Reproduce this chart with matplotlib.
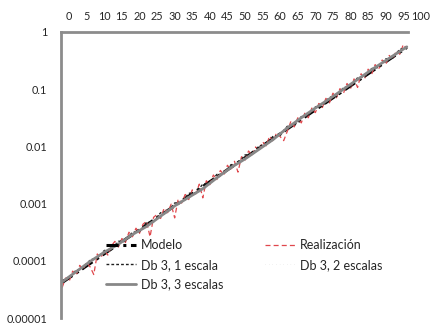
import numpy as np
import matplotlib
matplotlib.use("Agg")
import matplotlib.pyplot as plt

plt.rcParams['font.family'] = ['Lato', 'DejaVu Sans']

# ---- data (log10 values) ----
x_model = [-2, 96]
log_model = [-4.38, -0.27]

x_real = list(range(-2, 97))
log_real = [-4.47, -4.30, -4.36, -4.18, -4.25, -4.08, -4.15, -4.02, -4.11, -4.24,
            -3.88, -3.95, -3.82, -3.90, -3.74, -3.66, -3.76, -3.61, -3.68, -3.50,
            -3.58, -3.43, -3.52, -3.36, -3.31, -3.58, -3.24, -3.19, -3.26, -3.08,
            -3.16, -3.01, -3.25, -2.92, -2.99, -2.84, -2.93, -2.76, -2.83, -2.66,
            -2.90, -2.60, -2.67, -2.50, -2.58, -2.42, -2.50, -2.33, -2.41, -2.26,
            -2.45, -2.18, -2.24, -2.08, -2.16, -2.01, -2.08, -1.92, -1.99, -1.82,
            -1.91, -1.76, -1.83, -1.90, -1.74, -1.57, -1.66, -1.50, -1.59, -1.42,
            -1.50, -1.33, -1.41, -1.25, -1.32, -1.16, -1.24, -1.07, -1.15, -0.99,
            -1.07, -0.90, -0.99, -0.82, -0.97, -0.73, -0.82, -0.65, -0.74, -0.57,
            -0.65, -0.49, -0.57, -0.41, -0.48, -0.33, -0.39, -0.22, -0.29]

x_db1 = list(range(-2, 97, 2))
log_db1 = [-4.34, -4.31, -4.16, -4.15, -3.98, -3.96, -3.82, -3.80, -3.66, -3.65,
           -3.50, -3.49, -3.33, -3.32, -3.16, -3.14, -2.99, -2.98, -2.82, -2.81,
           -2.66, -2.64, -2.49, -2.48, -2.32, -2.31, -2.15, -2.14, -1.99, -1.97,
           -1.82, -1.81, -1.65, -1.64, -1.48, -1.47, -1.31, -1.30, -1.14, -1.13,
           -0.97, -0.96, -0.80, -0.79, -0.64, -0.62, -0.47, -0.46, -0.30, -0.29]

x_db2 = [-2, 2, 6, 10, 14, 18, 22, 26, 30, 34, 38, 42, 46, 50, 54, 58, 62, 66,
         70, 74, 78, 82, 86, 90, 94, 96]
log_db2 = [-4.36, -4.20, -3.99, -3.85, -3.69, -3.55, -3.38, -3.21, -3.04, -2.87,
           -2.73, -2.54, -2.37, -2.20, -2.05, -1.86, -1.68, -1.50, -1.33, -1.16,
           -0.99, -0.83, -0.66, -0.50, -0.33, -0.27]

x_db3 = [-2, 2, 6, 10, 14, 18, 22, 26, 30, 34, 38, 42, 46, 50, 54, 58, 62, 66,
         70, 74, 78, 82, 86, 90, 94, 96]
log_db3 = [-4.37, -4.19, -4.01, -3.85, -3.71, -3.54, -3.40, -3.22, -3.04, -2.89,
           -2.74, -2.55, -2.37, -2.22, -2.05, -1.88, -1.68, -1.50, -1.33, -1.17,
           -1.00, -0.83, -0.66, -0.50, -0.34, -0.26]

x_ticks = list(range(0, 101, 5))
y_ticks = [1, 0.1, 0.01, 0.001, 0.0001, 0.00001]
y_tick_labels = ["1", "0.1", "0.01", "0.001", "0.0001", "0.00001"]

labels = ["Modelo", "Realización", "Db 3, 1 escala", "Db 3, 2 escalas", "Db 3, 3 escalas"]

# ---- figure ----
fig = plt.figure(figsize=(4.33, 3.33), dpi=100)
ax = fig.add_axes([0.141, 0.045, 0.831, 0.859])

p = lambda v: np.power(10.0, np.array(v))

h_model, = ax.plot(x_model, p(log_model), color='black', lw=2.2,
                   linestyle=(0, (4, 1.5, 1, 1.5)), label=labels[0])
h_real, = ax.plot(x_real, p(log_real), color='#e0474c', lw=0.9,
                  linestyle=(0, (4, 2.5)), label=labels[1])
h_db1, = ax.plot(x_db1, p(log_db1), color='#202020', lw=1.0,
                 linestyle=(0, (2, 1.5)), label=labels[2])
h_db2, = ax.plot(x_db2, p(log_db2), color='#b0b0b0', lw=0.4,
                 linestyle=(0, (0.5, 6)), label=labels[3])
h_db3, = ax.plot(x_db3, p(log_db3), color='#878787', lw=2.0,
                 solid_capstyle='round', label=labels[4])

ax.set_yscale('log')
ax.set_ylim(1e-5, 1)
ax.set_xlim(-2.3, 100)

ax.set_xticks(x_ticks)
ax.set_xticklabels([str(t) for t in x_ticks])
ax.set_yticks(y_ticks)
ax.set_yticklabels(y_tick_labels)
ax.yaxis.set_minor_locator(matplotlib.ticker.NullLocator())
ax.xaxis.tick_top()
ax.tick_params(axis='x', which='both', length=0, pad=7, labelsize=7.8, colors='#262626')
ax.tick_params(axis='y', which='both', length=0, pad=10, labelsize=7.8, colors='#262626')

for s in ['bottom', 'right']:
    ax.spines[s].set_visible(False)
ax.spines['top'].set_color('#8c8c8c')
ax.spines['top'].set_linewidth(2.0)
ax.spines['top'].set_bounds(-2.3, 96.3)
ax.spines['left'].set_color('#8c8c8c')
ax.spines['left'].set_linewidth(2.0)

leg = fig.legend([h_model, h_db1, h_db3, h_real, h_db2],
                 [labels[0], labels[2], labels[4], labels[1], labels[3]],
                 ncol=2, frameon=False, loc='upper left',
                 bbox_to_anchor=(106 / 433, 1 - 239 / 333),
                 fontsize=9.0, handlelength=2.4, handletextpad=0.4,
                 columnspacing=3.3, labelspacing=0.62, borderpad=0,
                 borderaxespad=0)
for t in leg.get_texts():
    t.set_color('#262626')

fig.savefig("out.png", dpi=100)
